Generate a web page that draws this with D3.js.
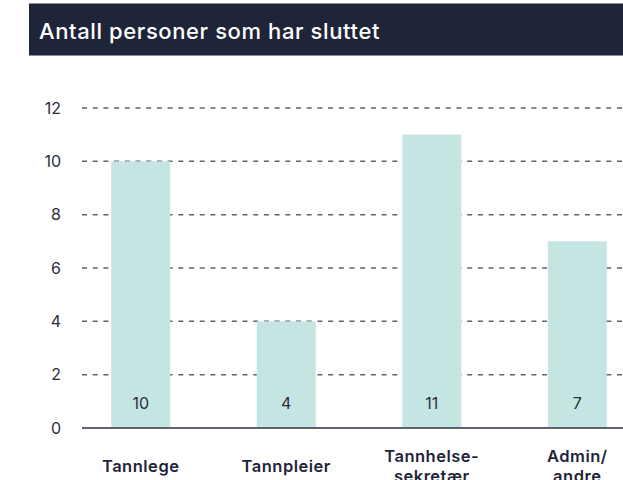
<!DOCTYPE html>
<html>
<head>
<meta charset="utf-8">
<script src="https://cdn.jsdelivr.net/npm/d3@7"></script>
<style>
  body { margin: 0; background: #fff; }
  svg text { font-family: "Inter", "Lato", sans-serif; }
</style>
</head>
<body>
<div id="chart"></div>
<script>
var title = "Antall personer som har sluttet";
var categories = ["Tannlege", "Tannpleier", "Tannhelse-\nsekretær", "Admin/\nandre"];
var values = [10, 4, 11, 7];
var yTicks = [0, 2, 4, 6, 8, 10, 12];

var W = 623, H = 480;
var svg = d3.select("#chart").append("svg")
    .attr("width", W)
    .attr("height", H);

// title bar
svg.append("rect")
    .attr("x", 29).attr("y", 3.5)
    .attr("width", W - 29).attr("height", 52)
    .attr("fill", "#1f2538");
svg.append("text")
    .attr("x", 39).attr("y", 38.5)
    .attr("fill", "#fff")
    .attr("font-size", 22)
    .attr("font-weight", 500)
    .attr("letter-spacing", 0.6)
    .text(title);

var y = d3.scaleLinear().domain([0, 12]).range([428, 108]);
var x = d3.scaleBand().domain(categories).range([68, 650])
    .paddingInner(0.5945).paddingOuter(0.297);

// grid
var grid = svg.append("g");
grid.selectAll("line").data(yTicks.filter(function(d) { return d > 0; }))
    .enter().append("line")
    .attr("x1", 82).attr("x2", W)
    .attr("y1", function(d) { return y(d); })
    .attr("y2", function(d) { return y(d); })
    .attr("stroke", "#5f6370")
    .attr("stroke-width", 1.5)
    .attr("stroke-dasharray", "5,5.7");

// y tick labels
svg.append("g").selectAll("text").data(yTicks)
    .enter().append("text")
    .attr("x", 61)
    .attr("y", function(d) { return y(d) + 5.5; })
    .attr("text-anchor", "end")
    .attr("font-size", 16)
    .attr("fill", "#2a2e3a")
    .text(function(d) { return d; });

// bars
svg.append("g").selectAll("rect").data(values)
    .enter().append("rect")
    .attr("x", function(d, i) { return x(categories[i]); })
    .attr("y", function(d) { return y(d); })
    .attr("width", x.bandwidth())
    .attr("height", function(d) { return y(0) - y(d); })
    .attr("fill", "#c5e5e2");

// axis line
svg.append("line")
    .attr("x1", 82).attr("x2", W)
    .attr("y1", y(0)).attr("y2", y(0))
    .attr("stroke", "#5f6370")
    .attr("stroke-width", 2);

// value labels
svg.append("g").selectAll("text").data(values)
    .enter().append("text")
    .attr("x", function(d, i) { return x(categories[i]) + x.bandwidth() / 2; })
    .attr("y", 409)
    .attr("text-anchor", "middle")
    .attr("font-size", 16)
    .attr("fill", "#2a2e3a")
    .text(function(d) { return d; });

// category labels
var cat = svg.append("g").selectAll("text").data(categories)
    .enter().append("text")
    .attr("x", function(d) { return x(d) + x.bandwidth() / 2; })
    .attr("y", function(d) { return d.indexOf("\n") >= 0 ? 461.5 : 471.5; })
    .attr("text-anchor", "middle")
    .attr("font-size", 16.5)
    .attr("font-weight", 600)
    .attr("letter-spacing", 0.5)
    .attr("fill", "#1f2538");
cat.each(function(d) {
    var t = d3.select(this);
    var cx = t.attr("x");
    d.split("\n").forEach(function(line, i) {
        t.append("tspan").attr("x", cx).attr("dy", i ? 20 : 0).text(line);
    });
});
</script>
</body>
</html>
